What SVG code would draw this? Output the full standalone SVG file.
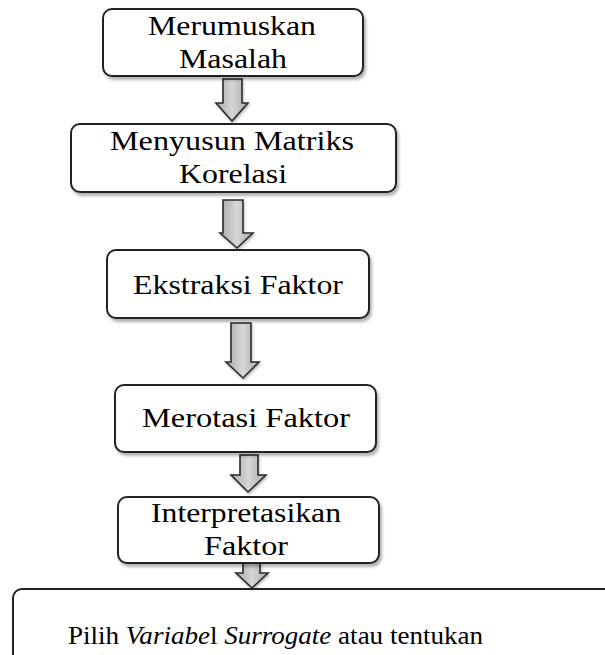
<svg xmlns="http://www.w3.org/2000/svg" width="605" height="655" viewBox="0 0 605 655">
<style>
.box{fill:#fff;stroke:#222;stroke-width:2;filter:url(#sh)}
text{font-family:'Liberation Serif','Times New Roman',serif;fill:#000;text-anchor:middle}
.t{font-size:28px}
.t2{font-size:26px}
.arr{fill:url(#g);stroke:#2a2a2a;stroke-width:1.6;stroke-linejoin:miter;filter:url(#sh2)}
</style>
<defs>
<filter id="sh" x="-10%" y="-10%" width="130%" height="140%">
<feDropShadow dx="2" dy="3" stdDeviation="1.8" flood-color="#000" flood-opacity="0.3"/>
</filter>
<filter id="sh2" x="-30%" y="-20%" width="160%" height="150%">
<feDropShadow dx="1" dy="2" stdDeviation="1" flood-color="#000" flood-opacity="0.25"/>
</filter>
<linearGradient id="g" x1="0" y1="0" x2="1" y2="0">
<stop offset="0" stop-color="#a9a9a9"/>
<stop offset="0.5" stop-color="#d6d6d6"/>
<stop offset="1" stop-color="#a9a9a9"/>
</linearGradient>
</defs>
<g id="connectors">
<path class="arr" d="M223,79 H242 V103 H248 L232,121 L216,103 H223 Z"/>
<path class="arr" d="M223,200 H243 V233 H253 L237,248 L220,233 H223 Z"/>
<path class="arr" d="M231,323 H251 V362 H259 L243,378 L226,362 H231 Z"/>
<path class="arr" d="M240,455 H258 V475 H266 L248,492 L231,475 H240 Z"/>
<path class="arr" d="M243,563 H260 V573 H268 L252,588 L236,573 H243 Z"/>
</g>
<g id="n1">
<rect class="box" x="103" y="9" width="260" height="67" rx="9"/>
<text class="t" x="232" y="35" textLength="168" lengthAdjust="spacingAndGlyphs">Merumuskan</text>
<text class="t" x="233" y="68" textLength="108" lengthAdjust="spacingAndGlyphs">Masalah</text>
</g>
<g id="n2">
<rect class="box" x="71" y="124" width="325" height="68" rx="9"/>
<text class="t" x="232" y="150" textLength="244" lengthAdjust="spacingAndGlyphs">Menyusun Matriks</text>
<text class="t" x="233" y="183" textLength="108" lengthAdjust="spacingAndGlyphs">Korelasi</text>
</g>
<g id="n3">
<rect class="box" x="107" y="250" width="262" height="68" rx="9"/>
<text class="t" x="238" y="294" textLength="210" lengthAdjust="spacingAndGlyphs">Ekstraksi Faktor</text>
</g>
<g id="n4">
<rect class="box" x="115" y="385" width="261" height="67" rx="9"/>
<text class="t" x="246" y="427" textLength="208" lengthAdjust="spacingAndGlyphs">Merotasi Faktor</text>
</g>
<g id="n5">
<rect class="box" x="118" y="497" width="261" height="66" rx="9"/>
<text class="t" x="246" y="522" textLength="190" lengthAdjust="spacingAndGlyphs">Interpretasikan</text>
<text class="t" x="246" y="555" textLength="84" lengthAdjust="spacingAndGlyphs">Faktor</text>
</g>
<g id="n6">
<rect class="box" x="13" y="589" width="620" height="90" rx="9"/>
<text class="t2" x="275.5" y="644" textLength="415" lengthAdjust="spacingAndGlyphs">Pilih <tspan font-style="italic">Variabe</tspan>l <tspan font-style="italic">Surrogate</tspan> atau tentukan</text>
</g>
</svg>
